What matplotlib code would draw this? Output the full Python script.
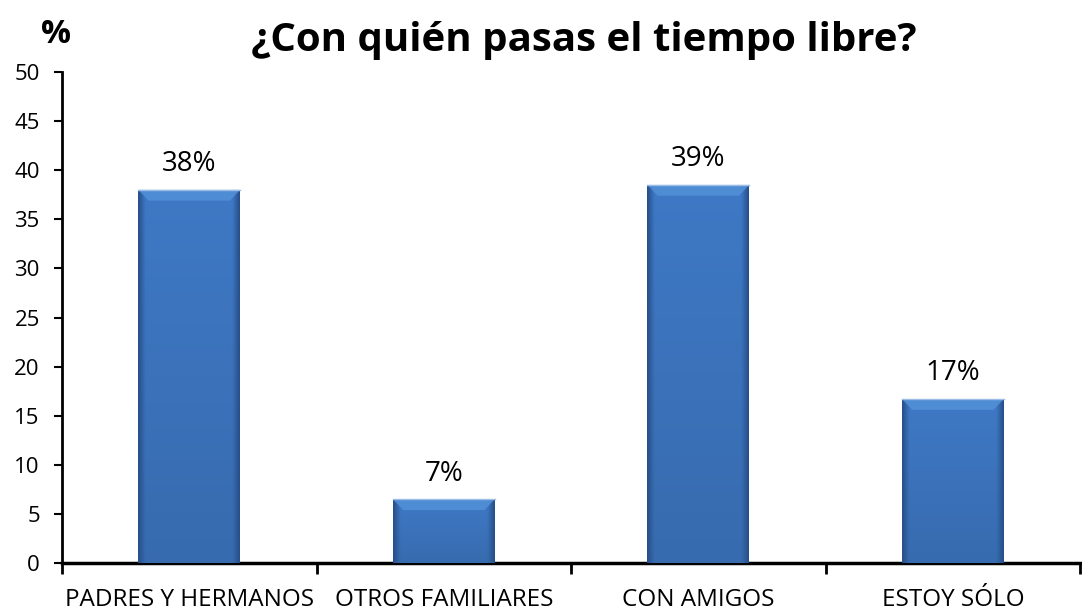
import numpy as np
import matplotlib.pyplot as plt
from matplotlib.colors import to_rgb

categories = ['PADRES Y HERMANOS', 'OTROS FAMILIARES', 'CON AMIGOS', 'ESTOY SÓLO']
values = [38.0, 6.5, 38.5, 16.7]
labels = ['38%', '7%', '39%', '17%']
yticks = [0, 5, 10, 15, 20, 25, 30, 35, 40, 45, 50]

plt.rcParams['font.family'] = ['Open Sans', 'DejaVu Sans']

fig = plt.figure(figsize=(10.82, 6.10), dpi=100)
ax = fig.add_axes([0.0573, 0.0770, 0.941, 0.805])

x = np.arange(len(categories))
bars = ax.bar(x, values, width=0.4, color='#3a70b8', edgecolor='none', zorder=2)

# bar face: flat blue, dark narrow edges, lighter toward the top
nx, ny = 80, 200
gx = np.linspace(0, 1, nx)
edge = np.clip(1 - np.minimum(gx, 1 - gx) / 0.07, 0, 1)  # 1 at sides, 0 inside
mid = to_rgb('#3b72ba')
dark = to_rgb('#27508a')
for b in bars:
    x0, w, h = b.get_x(), b.get_width(), b.get_height()
    gy = np.linspace(1, 0, ny)[:, None]  # 1 at top row
    base = np.array(mid)[None, None, :] * (0.94 + 0.12 * gy[..., None])
    img = base * (1 - edge[None, :, None]) + np.array(dark)[None, None, :] * edge[None, :, None]
    img = np.clip(img, 0, 1)
    im = ax.imshow(img, extent=[x0, x0 + w, 0, h], aspect='auto', zorder=3, interpolation='bilinear')
    im.set_clip_path(b)
    # lighter top bevel
    bev = 1.1
    ax.fill([x0, x0 + w, x0 + w - 0.04, x0 + 0.04], [h, h, h - bev, h - bev],
            color='#5290d8', alpha=0.85, zorder=4, lw=0)
    ax.plot([x0, x0 + w], [h, h], color='#9bbde6', lw=1, zorder=5)

for xi, v, lab in zip(x, values, labels):
    ax.text(xi, v + 1.9, lab, ha='center', va='baseline', fontsize=20)

ax.set_xlim(-0.5, 3.5)
ax.set_ylim(0, 50)
ax.set_yticks(yticks)
ax.set_xticks(x)
ax.set_xticklabels(categories, fontsize=17.5)
ax.set_xticks(np.arange(-0.5, 4.0, 1.0), minor=True)
ax.tick_params(axis='x', which='major', length=0, pad=18)
ax.tick_params(axis='x', which='minor', length=8, width=2, direction='out')
ax.tick_params(axis='y', labelsize=16, length=6, width=1.5, direction='out', pad=10)

for s in ['top', 'right']:
    ax.spines[s].set_visible(False)
ax.spines['left'].set_linewidth(2)
ax.spines['bottom'].set_linewidth(2.5)

fig.text(0.54, 0.933, '¿Con quién pasas el tiempo libre?', ha='center', va='center',
         fontsize=29, fontweight='bold')
fig.text(0.052, 0.944, '%', ha='center', va='center', fontsize=24, fontweight='bold')

fig.savefig('out.png', dpi=100)
